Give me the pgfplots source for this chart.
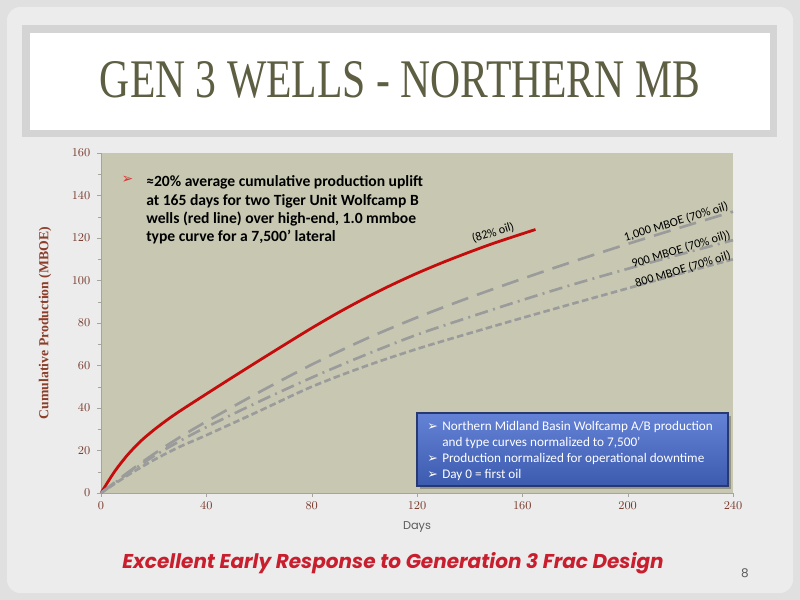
\documentclass[border=0pt]{standalone}
\usepackage{fontspec}
\setmainfont{Liberation Serif}
\newfontfamily\carlito{Carlito}
\newfontfamily\gothic{Poppins}
\newfontfamily\dejavu{DejaVu Sans}
\usepackage{pgfplots}
\pgfplotsset{compat=1.18}

\definecolor{plotbg}{RGB}{200,200,178}
\definecolor{tickbrown}{RGB}{120,58,45}
\definecolor{labelbrown}{RGB}{140,62,42}
\definecolor{curvered}{RGB}{196,12,12}
\definecolor{typegray}{RGB}{155,155,155}
\definecolor{axisgray}{RGB}{165,165,160}
\definecolor{titleolive}{RGB}{94,94,66}
\definecolor{slidebg}{RGB}{224,224,224}
\definecolor{panelbg}{RGB}{236,236,236}
\definecolor{framegray}{RGB}{212,212,212}
\definecolor{boxtop}{RGB}{100,130,214}
\definecolor{boxbot}{RGB}{60,90,174}
\definecolor{boxedge}{RGB}{40,56,112}
\definecolor{footred}{RGB}{200,30,45}
\definecolor{bulletred}{RGB}{220,50,50}
\definecolor{daysgray}{RGB}{90,90,90}

\begin{document}
\begin{tikzpicture}[x=0.75pt,y=0.75pt]
% slide background (coordinates in pixels, y measured from the bottom)
\path[use as bounding box] (0,0) rectangle (800,600);
\fill[slidebg] (0,0) rectangle (800,600);
\fill[panelbg, rounded corners=10pt] (7,7) rectangle (793,593);
\fill[framegray] (22,463) rectangle (777,575);
\fill[white] (30,470) rectangle (770,567);
\node[titleolive, inner sep=0, anchor=base] at (400,502)
  {\resizebox{450pt}{27pt}{GEN 3 WELLS - NORTHERN MB}};

\begin{axis}[
  at={(75.75pt,80.25pt)}, anchor=south west,
  scale only axis, width=474pt, height=255pt,
  xmin=0, xmax=240, ymin=0, ymax=160,
  xtick={0,40,...,240}, ytick={0,20,...,160},
  minor y tick num=1,
  axis background/.style={fill=plotbg},
  axis x line*=bottom, axis y line*=left,
  axis line style={draw=axisgray, -},
  tick align=outside, major tick length=3pt, minor tick length=2pt,
  tick style={axisgray},
  ticklabel style={font=\fontsize{9.5}{10}\selectfont, color=tickbrown},
  yticklabel style={xshift=-1.5pt},
  xlabel={Days},
  xlabel style={at={(axis description cs:0.5,-0.1)}, anchor=center,
    font=\gothic\fontsize{8.5}{9}\selectfont, color=daysgray},
  ylabel={Cumulative Production (MBOE)},
  ylabel style={at={(axis description cs:-0.0886,0.5)}, anchor=center,
    font=\bfseries\fontsize{10.3}{11}\selectfont, color=labelbrown},
  clip=false,
]
% Tiger Unit wells, average
\addplot[curvered, line width=2.1pt, smooth, tension=0.5] coordinates {
  (0,0) (5,9.8) (10,17.8) (15,24.3) (20,29.6) (25,34.3) (30,38.6) (40,46.6)
  (50,54.5) (60,62.3) (70,70) (80,77.6) (90,84.8) (100,91.5) (110,97.7)
  (120,103.4) (130,108.6) (140,113.4) (150,117.9) (165,124)
};
% 1,000 MBOE type curve
\addplot[typegray, line width=2pt, smooth, tension=0.5, dash pattern=on 13pt off 7pt] coordinates {
  (0,0) (10,9.5) (20,18.3) (30,26.3) (40,33.6) (60,47.4) (80,60.4) (100,72.2)
  (120,82.6) (140,92) (160,100.8) (180,109.2) (200,117.2) (220,124.9) (240,132.4)
};
% 900 MBOE type curve
\addplot[typegray, line width=2pt, smooth, tension=0.5, dash pattern=on 10pt off 4pt on 1.5pt off 4pt] coordinates {
  (0,0) (10,9) (20,17.3) (30,24.5) (40,31) (60,43) (80,54.3) (100,64.8)
  (120,74.5) (140,82.8) (160,90.8) (180,98.4) (200,105.5) (220,112.3) (240,119)
};
% 800 MBOE type curve
\addplot[typegray, line width=2pt, smooth, tension=0.5, dash pattern=on 5pt off 2.5pt] coordinates {
  (0,0) (10,8.2) (20,15.5) (30,21.8) (40,27.2) (60,38.5) (80,50) (100,59.5)
  (120,67.8) (140,75.2) (160,82.4) (180,89.4) (200,96.3) (220,103.2) (240,110)
};

\node[rotate=17, inner sep=1pt, font=\carlito\fontsize{9.2}{9}\selectfont] at (axis cs:148.9,122.4) {(82\% oil)};
\node[rotate=17, inner sep=1pt, font=\carlito\fontsize{9.2}{9}\selectfont] at (axis cs:218.4,127.6) {1,000 MBOE (70\% oil)};
\node[rotate=17, inner sep=1pt, font=\carlito\fontsize{9.2}{9}\selectfont] at (axis cs:220.3,114.6) {900 MBOE (70\% oil))};
\node[rotate=17, inner sep=1pt, font=\carlito\fontsize{9.2}{9}\selectfont] at (axis cs:221.0,105.2) {800 MBOE (70\% oil)};
\end{axis}

% call-out in the upper left of the plot
\node[bulletred, font=\dejavu\fontsize{10.5}{11}\selectfont] at (127.5,420) {➢};
\begin{scope}[every node/.style={anchor=base west, inner sep=0,
    font=\carlito\bfseries\fontsize{11.7}{13}\selectfont}]
\node at (146,413) {≈20\% average cumulative production uplift};
\node at (146,394.7) {at 165 days for two Tiger Unit Wolfcamp B};
\node at (146,376.4) {wells (red line) over high-end, 1.0 mmboe};
\node at (146,358) {type curve for a 7,500’ lateral};
\end{scope}

% blue note box
\fill[black, opacity=0.25] (420,111) rectangle (731,184);
\shadedraw[top color=boxtop, bottom color=boxbot, draw=boxedge, line width=0.8pt]
  (417,114) rectangle (728,187);
\begin{scope}[every node/.style={anchor=base west, inner sep=0, white,
    font=\carlito\fontsize{9.9}{11}\selectfont}]
\node[font=\dejavu\fontsize{9.5}{10}\selectfont] at (427,169.3) {➢};
\node at (442,169.3) {Northern Midland Basin Wolfcamp A/B production};
\node at (442,153.3) {and type curves normalized to 7,500’};
\node[font=\dejavu\fontsize{9.5}{10}\selectfont] at (427,137.3) {➢};
\node at (442,137.3) {Production normalized for operational downtime};
\node[font=\dejavu\fontsize{9.5}{10}\selectfont] at (427,121.7) {➢};
\node at (442,121.7) {Day 0 = first oil};
\end{scope}

% footer
\node[footred, font=\gothic\bfseries\itshape\fontsize{15}{17}\selectfont] at (393,37)
  {Excellent Early Response to Generation 3 Frac Design};
\node[daysgray, font=\gothic\fontsize{9}{10}\selectfont] at (745,27) {8};
\end{tikzpicture}
\end{document}
